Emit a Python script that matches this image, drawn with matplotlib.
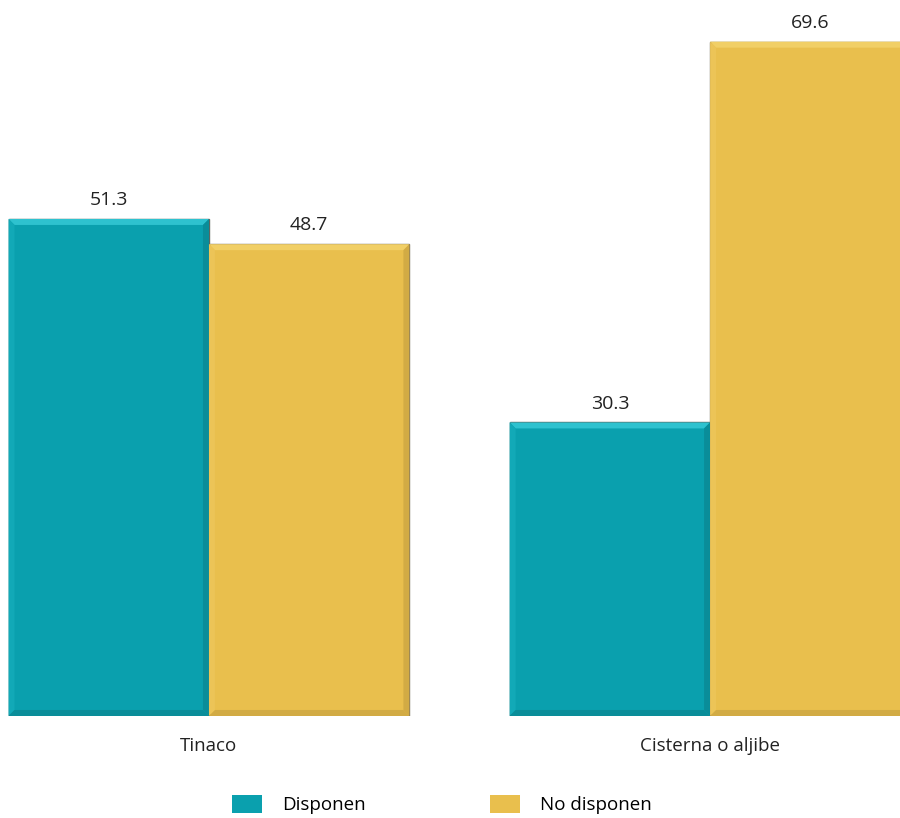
import matplotlib
matplotlib.use("Agg")
import matplotlib.pyplot as plt
from matplotlib.patches import Polygon
import numpy as np

# Chart data
CATEGORIES = ["Tinaco", "Cisterna o aljibe"]
DISPONEN = [51.3, 30.3]
NO_DISPONEN = [48.7, 69.6]
SERIES_NAMES = ["Disponen", "No disponen"]

TEAL = "#0aa0ae"
YELLOW = "#e9bf4d"

plt.rcParams["font.family"] = ["Open Sans", "DejaVu Sans"]

fig = plt.figure(figsize=(9, 8.18), dpi=100)
ax = fig.add_axes([0, 0.1247, 1, 0.8753])

x = np.arange(len(CATEGORIES))
width = 0.4

bars1 = ax.bar(x - width / 2, DISPONEN, width, color=TEAL,
               edgecolor="#5d6660", linewidth=1.0, label=SERIES_NAMES[0])
bars2 = ax.bar(x + width / 2, NO_DISPONEN, width, color=YELLOW,
               edgecolor="#7a7260", linewidth=1.0, label=SERIES_NAMES[1])

ax.set_xlim(-0.417, 1.379)
ax.set_ylim(0, 73.9)

# bevel effect on each bar
dx = 6 / 501.0
dy = 6 / 9.69


def bevel(rects, light, dark, side):
    for r in rects:
        x0, y0 = r.get_x(), r.get_y()
        x1, y1 = x0 + r.get_width(), y0 + r.get_height()
        top = [(x0, y1), (x1, y1), (x1 - dx, y1 - dy), (x0 + dx, y1 - dy)]
        left = [(x0, y0), (x0, y1), (x0 + dx, y1 - dy), (x0 + dx, y0 + dy)]
        right = [(x1, y0), (x1, y1), (x1 - dx, y1 - dy), (x1 - dx, y0 + dy)]
        bottom = [(x0, y0), (x1, y0), (x1 - dx, y0 + dy), (x0 + dx, y0 + dy)]
        ax.add_patch(Polygon(top, closed=True, color=light, lw=0, zorder=3))
        ax.add_patch(Polygon(left, closed=True, color=side, lw=0, zorder=3))
        ax.add_patch(Polygon(right, closed=True, color=dark, lw=0, zorder=3))
        ax.add_patch(Polygon(bottom, closed=True, color=dark, lw=0, zorder=3))


bevel(bars1, "#2ec2cf", "#0a8d99", "#12a9b7")
bevel(bars2, "#f1cf66", "#d2ab44", "#ecc457")

for rects in (bars1, bars2):
    for r in rects:
        ax.annotate("%.1f" % r.get_height(),
                    (r.get_x() + r.get_width() / 2, r.get_height()),
                    xytext=(0, 7), textcoords="offset points",
                    ha="center", va="bottom", fontsize=14, color="#222222")

ax.set_xticks(x)
ax.set_xticklabels(CATEGORIES, fontsize=13.5, color="#222222")
ax.tick_params(axis="x", length=0, pad=15)
ax.set_yticks([])
for s in ax.spines.values():
    s.set_visible(False)

leg = fig.legend(loc="lower center", bbox_to_anchor=(0.491, -0.016), ncol=2,
                 frameon=False, fontsize=13.5, handlelength=1.6,
                 handleheight=1.05, columnspacing=6.6, handletextpad=1.1)
for h in leg.legend_handles:
    h.set_edgecolor("none")

fig.savefig("out.png", dpi=100)
